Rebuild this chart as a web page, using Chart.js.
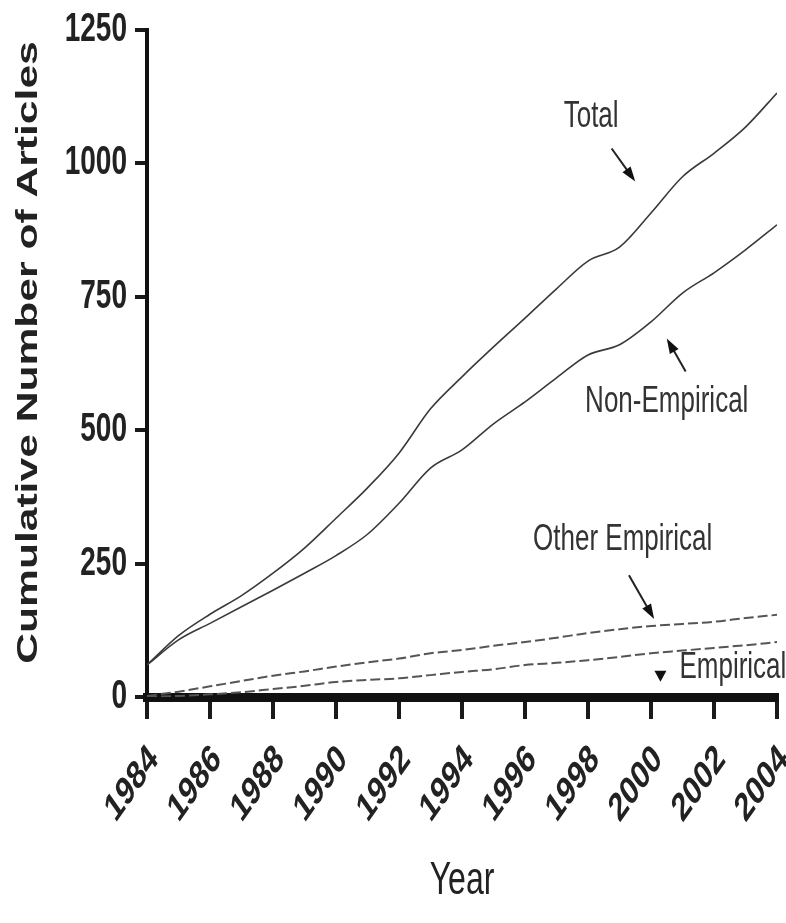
<!DOCTYPE html>
<html>
<head>
<meta charset="utf-8">
<script src="https://cdn.jsdelivr.net/npm/chart.js@4.4.1/dist/chart.umd.min.js"></script>
<style>
  html, body { margin: 0; padding: 0; background: #fff; }
</style>
</head>
<body>
<canvas id="myChart" width="786" height="923"></canvas>
<script>
const years = [1984, 1985, 1986, 1987, 1988, 1989, 1990, 1991, 1992, 1993, 1994,
               1995, 1996, 1997, 1998, 1999, 2000, 2001, 2002, 2003, 2004];
const total          = [60, 115, 155, 190, 232, 279, 335, 392, 457, 540, 600, 656, 710, 765, 817, 843, 907, 975, 1019, 1068, 1132];
const nonEmpirical   = [60, 107, 138, 169, 200, 232, 265, 305, 363, 429, 463, 512, 553, 598, 641, 660, 703, 757, 795, 838, 885];
const otherEmpirical = [2, 10, 20, 30, 40, 48, 57, 65, 72, 82, 88, 96, 103, 111, 120, 127, 133, 137, 141, 148, 154];
const empirical      = [0, 2, 5, 9, 15, 21, 28, 32, 35, 41, 47, 52, 60, 64, 69, 75, 82, 87, 92, 97, 103];
const xTicks = [1984, 1986, 1988, 1990, 1992, 1994, 1996, 1998, 2000, 2002, 2004];
const yTicks = [0, 250, 500, 750, 1000, 1250];

// the source figure is stretched vertically, so text is drawn with the same stretch
const K = 1.42;
const sans = "'Liberation Sans', Arial, sans-serif";

function pts(arr) {
  return years.map((yr, i) => ({ x: yr, y: arr[i] }));
}

function stretchedText(ctx, text, x, y, font, align, angle) {
  ctx.save();
  ctx.translate(x, y);
  ctx.scale(1, K);
  if (angle) ctx.rotate(angle);
  ctx.font = font;
  ctx.textAlign = align;
  ctx.textBaseline = 'middle';
  ctx.fillText(text, 0, 0);
  ctx.restore();
}

// labels + arrows placed in data units
const notes = [
  { text: 'Total', x: 1998.1, y: 1087, arrow: [1998.75, 1028, 1999.5, 966] },
  { text: 'Non-Empirical', x: 2000.5, y: 553, arrow: [2001.1, 610, 2000.5, 672] },
  { text: 'Other Empirical', x: 1999.1, y: 294, arrow: [1999.3, 228, 2000.1, 146] },
  { text: 'Empirical', x: 2002.6, y: 54, head: [2000.3, 38] }
];

const annotate = {
  id: 'annotate',
  afterDraw(chart) {
    const { ctx, chartArea, scales: { x, y } } = chart;
    ctx.save();

    // tick labels
    ctx.fillStyle = '#222';
    y.ticks.forEach(t => {
      stretchedText(ctx, String(t.value), 127, y.getPixelForValue(t.value), 'bold 28px ' + sans, 'right');
    });
    x.ticks.forEach(t => {
      stretchedText(ctx, String(t.value), x.getPixelForValue(t.value) + 7, chartArea.bottom + 56,
                    'bold 28px ' + sans, 'right', -Math.PI / 4);
    });

    // axis titles
    stretchedText(ctx, 'Year', (chartArea.left + chartArea.right) / 2, 881, '32px ' + sans, 'center');
    stretchedText(ctx, 'Cumulative Number of Articles', 29, (chartArea.top + chartArea.bottom) / 2 - 11,
                  'bold 30px ' + sans, 'center', -Math.PI / 2);

    // annotations
    notes.forEach(n => {
      ctx.fillStyle = '#333';
      stretchedText(ctx, n.text, x.getPixelForValue(n.x), y.getPixelForValue(n.y), '26px ' + sans, 'center');
      ctx.fillStyle = '#111';
      ctx.strokeStyle = '#222';
      if (n.arrow) {
        const x1 = x.getPixelForValue(n.arrow[0]), y1 = y.getPixelForValue(n.arrow[1]);
        const x2 = x.getPixelForValue(n.arrow[2]), y2 = y.getPixelForValue(n.arrow[3]);
        const a = Math.atan2(y2 - y1, x2 - x1);
        ctx.lineWidth = 2;
        ctx.beginPath();
        ctx.moveTo(x1, y1);
        ctx.lineTo(x2 - 10 * Math.cos(a), y2 - 10 * Math.sin(a));
        ctx.stroke();
        ctx.beginPath();
        ctx.moveTo(x2, y2);
        ctx.lineTo(x2 - 15 * Math.cos(a) + 5 * Math.sin(a), y2 - 15 * Math.sin(a) - 5 * Math.cos(a));
        ctx.lineTo(x2 - 15 * Math.cos(a) - 5 * Math.sin(a), y2 - 15 * Math.sin(a) + 5 * Math.cos(a));
        ctx.closePath();
        ctx.fill();
      }
      if (n.head) {
        const hx = x.getPixelForValue(n.head[0]), hy = y.getPixelForValue(n.head[1]);
        ctx.beginPath();
        ctx.moveTo(hx - 6, hy - 6);
        ctx.lineTo(hx + 6, hy - 6);
        ctx.lineTo(hx, hy + 5);
        ctx.closePath();
        ctx.fill();
      }
    });
    ctx.restore();
  }
};

const data = {
  datasets: [
    { label: 'Total', data: pts(total), borderColor: '#3a3a3a', borderWidth: 1.6 },
    { label: 'Non-Empirical', data: pts(nonEmpirical), borderColor: '#3a3a3a', borderWidth: 1.6 },
    { label: 'Other Empirical', data: pts(otherEmpirical), borderColor: '#555', borderWidth: 2, borderDash: [10, 4] },
    { label: 'Empirical', data: pts(empirical), borderColor: '#555', borderWidth: 2, borderDash: [10, 4] }
  ]
};

const config = {
  type: 'line',
  data: data,
  options: {
    responsive: false,
    animation: false,
    layout: { padding: { left: 60, top: 30, right: 9, bottom: 0 } },
    elements: { point: { radius: 0 }, line: { cubicInterpolationMode: 'monotone', fill: false } },
    plugins: { legend: { display: false }, tooltip: { enabled: false } },
    scales: {
      x: {
        type: 'linear',
        min: 1984,
        max: 2004,
        afterBuildTicks: s => { s.ticks = xTicks.map(v => ({ value: v })); },
        afterFit: s => { s.height = 226; },
        grid: { drawOnChartArea: false, drawTicks: true, tickLength: 22, lineWidth: 4, color: '#1a1a1a' },
        border: { display: true, width: 9, color: '#111' },
        ticks: { display: false }
      },
      y: {
        min: 0,
        max: 1250,
        afterBuildTicks: s => { s.ticks = yTicks.map(v => ({ value: v })); },
        afterFit: s => { s.width = 87; },
        grid: { drawOnChartArea: false, drawTicks: true, tickLength: 12, lineWidth: 4, color: '#1a1a1a' },
        border: { display: true, width: 4, color: '#111' },
        ticks: { display: false }
      }
    }
  },
  plugins: [annotate]
};

var ctx = document.getElementById('myChart');
var myChart = new Chart(ctx, config);
</script>
</body>
</html>
